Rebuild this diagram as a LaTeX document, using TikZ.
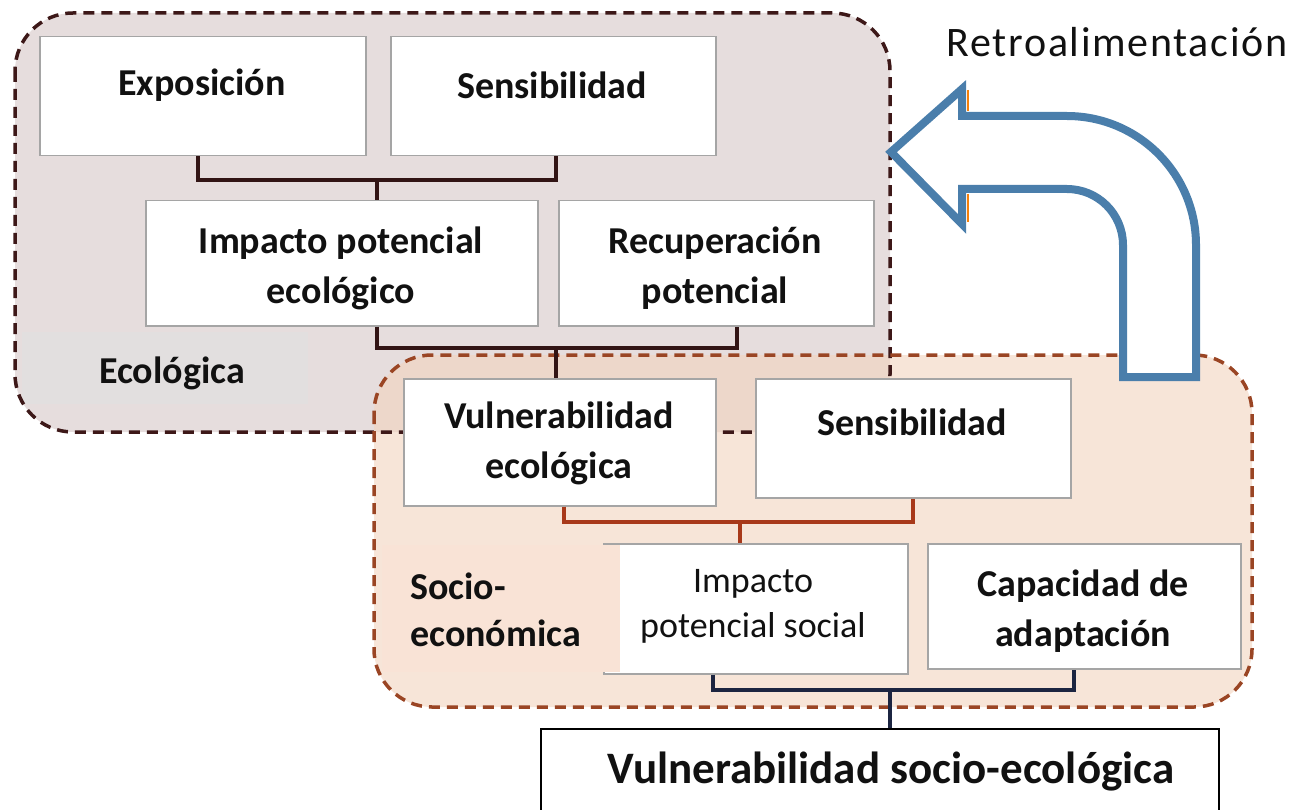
\documentclass[tikz,border=0pt]{standalone}
\usepackage{fontspec}
\setmainfont{Carlito}
\newfontfamily\retrofont[LetterSpace=4]{Carlito}
\usetikzlibrary{calc}
\definecolor{ecofill}{HTML}{E6DDDD}
\definecolor{ecolab}{HTML}{E2DFDF}
\definecolor{socfill}{HTML}{F2D3BE}
\definecolor{soclab}{HTML}{F9E3D6}
\definecolor{ecoborder}{HTML}{3D1818}
\definecolor{socborder}{HTML}{9A4524}
\definecolor{boxgray}{HTML}{A5A5A5}
\definecolor{conneco}{HTML}{321414}
\definecolor{connsoc}{HTML}{A8391A}
\definecolor{connfin}{HTML}{1C2541}
\definecolor{arrowblue}{HTML}{4A7EAB}
\definecolor{txt}{HTML}{111111}
\begin{document}
\begin{tikzpicture}[x=1pt,y=-1pt,
  box/.style={draw=boxgray, line width=1.5pt, fill=white, anchor=north west, inner sep=0pt},
  lbl/.style={text=txt, font=\bfseries\fontsize{38}{50}\selectfont, align=center, inner sep=0pt},
  lblreg/.style={text=txt, font=\fontsize{36}{45}\selectfont, align=center, inner sep=0pt},
  region/.style={rounded corners=58pt},
  regborder/.style={dashed, dash pattern=on 11pt off 7pt, line width=3.5pt, rounded corners=58pt},
  conn/.style={line width=4pt},
  fbarrow/.style={draw=arrowblue, line width=8pt, fill=white, line join=miter}
]
\useasboundingbox (0,0) rectangle (1308,810);
% regions fills
\fill[ecofill, region] (15,13) rectangle (890,432);
\fill[ecolab] (22,332) rectangle (308,404);
\fill[socfill, fill opacity=0.6, region] (374,355) rectangle (1252,707);
% region borders
\draw[ecoborder, regborder] (15,13) rectangle (890,432);
\draw[socborder, regborder] (374,355) rectangle (1252,707);

% junction coordinates
\coordinate (j1) at (377,180);
\coordinate (j2) at (556,348);
\coordinate (j3) at (740,522);
\coordinate (j4) at (890,690);

% boxes
\node[box, minimum width=326pt, minimum height=119pt] (expo) at (39,36) {};
\node[box, minimum width=325pt, minimum height=119pt] (sens1) at (390,36) {};
\node[box, minimum width=392pt, minimum height=125pt] (impe) at (145,200) {};
\node[box, minimum width=315pt, minimum height=125pt] (recu) at (558,200) {};
\node[box, minimum width=312pt, minimum height=127pt] (vulne) at (403,378) {};
\node[box, minimum width=315pt, minimum height=119pt] (sens2) at (755,378) {};
\node[box, minimum width=304pt, minimum height=130pt] (imps) at (603,543) {};
\node[box, minimum width=313pt, minimum height=125pt] (capa) at (927,543) {};
\node[box, draw=black, line width=2pt, minimum width=678pt, minimum height=100pt] (final) at (540,728) {};
\fill[soclab] (382,545) rectangle (620,671.5);

% connectors
\draw[conn, conneco] ([xshift=-5pt]expo.south) |- (j1) -| ([xshift=3pt]sens1.south);
\draw[conn, conneco] (j1) -- (j1 |- impe.north);
\draw[conn, conneco] ([xshift=35pt]impe.south) |- (j2) -| ([xshift=21pt]recu.south);
\draw[conn, conneco] (j2) -- (j2 |- vulne.north);
\draw[conn, connsoc] ([xshift=4pt]vulne.south) |- (j3) -| (sens2.south);
\draw[conn, connsoc] (j3) -- (j3 |- imps.north);
\draw[conn, connfin] ([xshift=-43pt]imps.south) |- (j4) -| ([xshift=-10pt]capa.south);
\draw[conn, connfin] (j4) -- (j4 |- final.north);

% texts
\node[lbl] (texpo) at (202,85) {Exposición};
\node[lbl] (tsens1) at (552,85) {Sensibilidad};
\node[lbl] (timpe) at (341,268) {Impacto potencial\\ecológico};
\node[lbl] (trecu) at (715,268) {Recuperación\\potencial};
\node[lbl] (tvulne) at (559,443) {Vulnerabilidad\\ecológica};
\node[lbl] (tsens2) at (912,422) {Sensibilidad};
\node[lblreg] (timps) at (753,606) {Impacto\\potencial social};
\node[lbl] (tcapa) at (1083,611) {Capacidad de\\adaptación};
\node[lbl, align=left, anchor=west, font=\bfseries\fontsize{38}{47}\selectfont] (tsoc) at (410,610) {Socio-\\económica};
\node[lbl, anchor=west] (teco) at (99,373) {Ecológica};
\node[lbl, font=\bfseries\fontsize{45}{50}\selectfont] (tfinal) at (891,772) {Vulnerabilidad socio-ecológica};

% feedback arrow
\draw[orange!85!brown, line width=2pt] (967.5,90) -- (967.5,111);
\draw[orange!85!brown, line width=2pt] (967.5,194) -- (967.5,222);
\draw[fbarrow] (891,152) -- (962,89) -- (962,116) -- (1067,116)
  arc[start angle=90, end angle=0, radius=129pt] -- (1196,377) -- (1123,377) -- (1123,245)
  arc[start angle=0, end angle=90, radius=56pt] -- (962,189) -- (962,224) -- cycle;
\node[text=txt, font=\retrofont\fontsize{42}{46}\selectfont, inner sep=0pt] (tretro) at (1117,42) {Retroalimentación};
\end{tikzpicture}
\end{document}
